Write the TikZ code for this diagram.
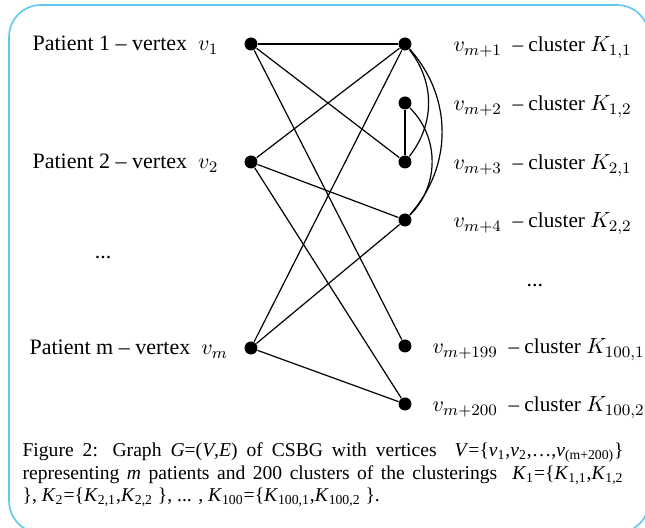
\documentclass[tikz,border=0pt]{standalone}
\usepackage{fontspec}
\setmainfont{Liberation Serif}
\usepackage{xcolor}
\usetikzlibrary{positioning}
\DeclareMathSizes{10.6}{10.6}{8}{6}

\definecolor{framebl}{RGB}{95,200,240}
\tikzset{
	vtx/.style={circle,fill,inner sep=0pt,minimum size=6.5pt},
	lab/.style={anchor=base west,inner sep=0pt,font=\fontsize{11}{13}\selectfont},
	rlab/.style={lab,font=\fontsize{10.6}{13}\selectfont},
	capline/.style={anchor=base west,inner sep=0pt,font=\fontsize{9.8}{11.25}\selectfont},
}
\newcommand{\capw}{300.5pt}

\begin{document}
\begin{tikzpicture}[x=0.5pt,y=-0.5pt,line width=0.6pt]
	\useasboundingbox (0,0) rectangle (645,528);
	\draw[framebl,line width=0.8pt,rounded corners=16pt] (9,5) rectangle (649,533);
	% patients
	\node[vtx] (p1) at (251,44) {};
	\node[vtx] (p2) at (251,162) {};
	\node[vtx] (pm) at (251,348) {};
	\node[lab] (lp1) at (32,51) {Patient 1 -- vertex \ $v_1$};
	\node[lab] (lp2) at (32,169) {Patient 2 -- vertex \ $v_2$};
	\node[lab] (lpm) at (29,355) {Patient m -- vertex \ $v_m$};
	\node[lab,anchor=center] (dl) at (103,258) {...};
	% clusters
	\foreach \n/\y in {1/44,2/103,3/162,4/220,199/346,200/404}
		{\node[vtx] (c\n) at (405,\y) {};}
	\foreach \n/\y/\x/\k in {1/44/453/{1,1},2/103/453/{1,2},3/162/453/{2,1},4/220/453/{2,2},199/346/432/{100,1},200/404/432/{100,2}}
		{\node[rlab] (lc\n) at (\x,\y+8) {$v_{m+\n}$\ \ -- cluster $K_{\k}$};}
	\node[lab,anchor=center] (dr) at (535,286) {...};
	% edges
	\draw[line width=1.1pt] (p1)--(c1);
	\foreach \a/\b in {p1/c3,p1/c199,p2/c1,p2/c4,p2/c200,pm/c1,pm/c4,pm/c200,c2/c3}
		{\draw (\a)--(\b);}
	\draw (c1) to[bend left=38] (c3);
	\draw (c1) to[bend left=42] (c4);
	\draw (c2) to[bend left=45] (c4);
	% caption
	\node[capline] (cap1) at (22,457) {\hbox to\capw{Figure 2: Graph \textit{G}=(\textit{V},\textit{E}) of CSBG with vertices \ \textit{V}=\{\textit{v}\textsubscript{1},\textit{v}\textsubscript{2},\dots,\textit{v}\textsubscript{(m+200)}\}}};
	\node[capline] (cap2) at (22,479.5) {\hbox to\capw{representing \textit{m} patients and 200 clusters of the clusterings \ \textit{K}\textsubscript{1}=\{\textit{K}\textsubscript{1,1},\textit{K}\textsubscript{1,2}}};
	\node[capline] (cap3) at (22,502) {\}, \textit{K}\textsubscript{2}=\{\textit{K}\textsubscript{2,1},\textit{K}\textsubscript{2,2} \}, ... , \textit{K}\textsubscript{100}=\{\textit{K}\textsubscript{100,1},\textit{K}\textsubscript{100,2} \}.};
\end{tikzpicture}
\end{document}
